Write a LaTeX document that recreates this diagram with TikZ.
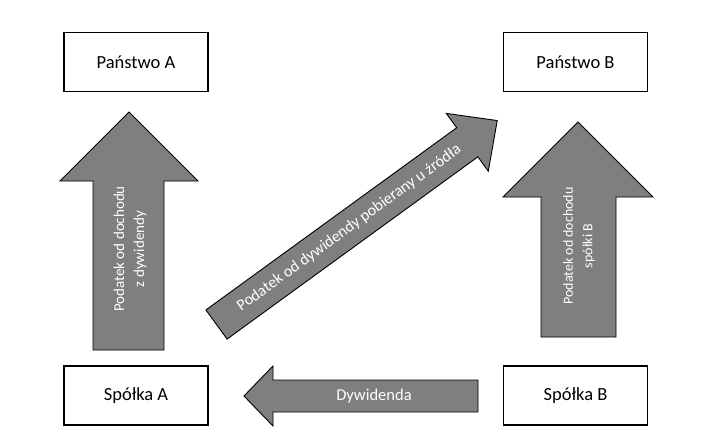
\documentclass[tikz,border=0pt]{standalone}
\usepackage{fontspec}
\setmainfont{Carlito}
\definecolor{arrowgray}{RGB}{127,127,127}
\begin{document}
\begin{tikzpicture}[x=1pt,y=-1pt,
  box/.style={draw=black,line width=1.4pt,fill=white,minimum width=144pt,minimum height=59pt,inner sep=0pt,font=\fontsize{18.5}{22}\selectfont},
  blockarrow/.style={draw=black,line width=0.9pt,fill=arrowgray,line join=miter},
  arrowtext/.style={text=white,align=center,inner sep=0pt}]
\useasboundingbox (0,0) rectangle (712,447);

% boxes
\node[box] (pa) at (136,62) {Państwo A};
\node[box] (pb) at (575.5,62) {Państwo B};
\node[box] (sa) at (136,395.5) {Spółka A};
\node[box] (sb) at (575.5,395.5) {Spółka B};

% left vertical arrow
\draw[blockarrow] (129,112) -- (198,181) -- (164,181) -- (164,350) -- (93,350) -- (93,181) -- (60,181) -- cycle;
\node[arrowtext,rotate=90,font=\fontsize{15}{20}\selectfont] (ta) at (130,249) {Podatek od dochodu\\z dywidendy};

% right vertical arrow
\draw[blockarrow] (578,122) -- (653,197) -- (616,197) -- (616,337) -- (541,337) -- (541,197) -- (503,197) -- cycle;
\node[arrowtext,rotate=90,font=\fontsize{14}{19.5}\selectfont] (tb) at (579,246) {Podatek od dochodu\\spółki B};

% diagonal arrow
\begin{scope}[shift={(216.5,324.5)},rotate=36]
\draw[blockarrow] (0,-18) -- (310,-18) -- (310,-35.7) -- (347,0) -- (310,35.7) -- (310,18) -- (0,18) -- cycle;
\node[arrowtext,rotate=36,font=\fontsize{16}{20}\selectfont] (td) at (164,0) {Podatek od dywidendy pobierany u źródła};
\end{scope}

% bottom arrow
\draw[blockarrow] (244,396) -- (273,366) -- (273,380) -- (478,380) -- (478,412) -- (273,412) -- (273,426) -- cycle;
\node[arrowtext,font=\fontsize{16.5}{20}\selectfont] (tdy) at (374,396) {Dywidenda};
\end{tikzpicture}
\end{document}
